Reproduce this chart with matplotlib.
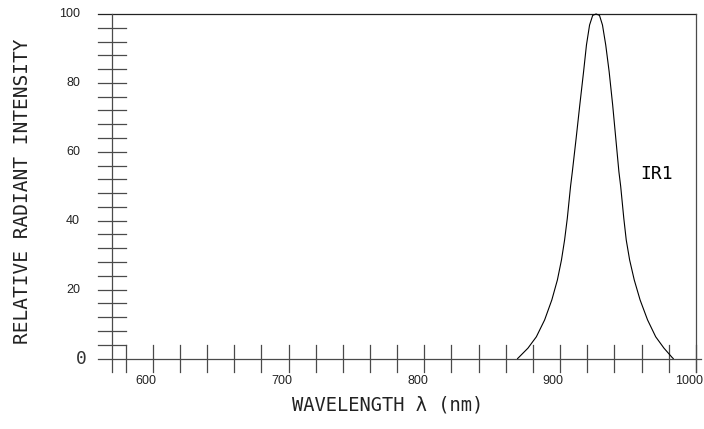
import numpy as np
import matplotlib
matplotlib.use("Agg")
import matplotlib.pyplot as plt

# curva IR1 (nm, intensidad relativa %)
longitud_onda = [868.7, 869.5, 876.3, 882.5, 888.6, 893.9, 898.0, 901.0, 903.3,
                 905.3, 907.7, 909.0, 911.8, 914.5, 917.3, 919.4, 921.7, 924.0,
                 926.5, 929.0, 931.2, 933.6, 936.1, 938.7, 941.0, 943.3, 944.6,
                 946.9, 948.7, 951.2, 954.6, 958.9, 964.4, 970.4, 976.5, 982.5,
                 983.3]
intensidad = [0.0, 0.3, 3.0, 6.3, 11.2, 17.0, 22.8, 28.6, 34.4,
              40.7, 50.0, 54.2, 63.9, 73.6, 83.3, 91.0, 96.8, 99.6,
              100.0, 99.6, 96.8, 91.0, 83.3, 73.6, 63.9, 54.2, 50.0,
              40.7, 34.4, 28.6, 22.8, 17.0, 11.2, 6.3, 3.0, 0.3,
              0.0]

x_ticks = np.arange(580, 1001, 20)
x_labels = [600, 700, 800, 900, 1000]
y_ticks = np.arange(4, 100, 4)
y_labels = [20, 40, 60, 80, 100]

gris = '#4a4a4a'

fig = plt.figure(figsize=(7.04, 4.29), dpi=100)
ax = fig.add_axes([0, 0, 1, 1])
ax.set_xlim(487.55, 1005.96)
ax.set_ylim(-20.46, 104.06)
ax.axis('off')

# marco: linea superior, linea de cero, eje izquierdo y borde derecho
ax.plot([560, 1000], [100, 100], color='#222222', lw=0.9)
ax.plot([560, 1004], [0, 0], color=gris, lw=0.9)
ax.plot([570, 570], [-4, 100], color=gris, lw=0.9)
ax.plot([1000, 1000], [-4, 100], color=gris, lw=0.9)

# marcas del eje x (cruzan la linea de cero)
for t in x_ticks:
    ax.plot([t, t], [-4, 4], color=gris, lw=0.9)
# marcas del eje y (cruzan el eje izquierdo)
for t in y_ticks:
    ax.plot([560, 580], [t, t], color=gris, lw=0.9)

for v in x_labels:
    ax.text(v - 5, -6.6, str(v), ha='center', va='center', fontsize=9,
            family='Liberation Sans', color='#222222')
for v in y_labels:
    ax.text(546.5, v, str(v), ha='right', va='center', fontsize=9,
            family='Liberation Sans', color='#222222')
ax.text(551.6, 0, '0', ha='right', va='center', fontsize=13,
        family='DejaVu Sans Mono', color='#333333')

ax.plot(longitud_onda, intensidad, color='black', lw=0.8)
ax.text(958.8, 53.6, 'IR1', ha='left', va='center', fontsize=13,
        family='DejaVu Sans Mono', color='black')

ax.text(503.8, 48.6, 'RELATIVE RADIANT INTENSITY', rotation=90, ha='center',
        va='center', fontsize=14, family='DejaVu Sans Mono', color='#222222')
ax.text(772.9, -13.5, 'WAVELENGTH \u03bb (nm)', ha='center', va='center',
        fontsize=13.5, family='DejaVu Sans Mono', color='#222222')

fig.savefig('out.png', dpi=100)
